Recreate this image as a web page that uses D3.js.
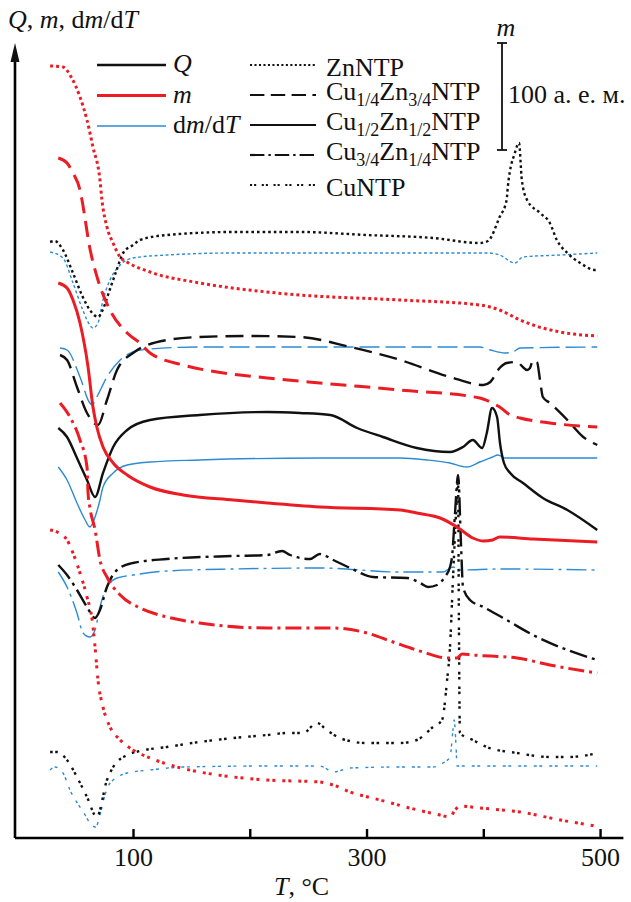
<!DOCTYPE html>
<html>
<head>
<meta charset="utf-8">
<script src="https://cdn.jsdelivr.net/npm/d3@7"></script>
<style>
body { margin: 0; background: #fff; }
svg text { font-family: "Liberation Serif", "Tinos", "Times New Roman", "DejaVu Serif", serif; fill: #111; }
</style>
</head>
<body>
<svg id="chart" width="631" height="902"></svg>
<script>
// T in °C, signal in arbitrary units (curves are offset vertically)
const samples = ["ZnNTP", "Cu1/4Zn3/4NTP", "Cu1/2Zn1/2NTP", "Cu3/4Zn1/4NTP", "CuNTP"];
const tickValues = [100, 200, 300, 400, 500];
const tickLabels = [100, 300, 500];

// ZnNTP
const znQ = [[29,596],[33,597],[40,588],[48.6,565],[57,541],[65,525],[70,521],[74,528],[80,548],[86,568],[91.5,585],[100,593],[106,598],[129,603],[186,606],[243,606],[300,603],[357,600],[397,595],[404,597],[414,621],[420,638],[421,651],[427,685],[430.6,695],[433,658],[437.5,638],[448.6,625],[457,615],[463,598],[472,585],[483,575],[496,568],[497.6,568]];
const znM = [[29,772],[40,771],[47,761],[54.6,741],[60.6,718],[65.7,691],[71.7,658],[73.4,638],[77.7,611],[82.9,595],[88.9,581],[94.9,576],[114.6,566],[157.4,555],[214.8,546],[243,543],[329,538],[397,533],[414,528],[431.5,518],[442.6,513],[465.8,506],[497.6,502]];
const znD = [[29,586],[40,580],[48.6,555],[57,528],[63,513],[65.7,510],[70,515],[74.3,538],[80.3,558],[89,573],[100,580],[129,583],[186,585],[260,585],[404,585],[414,583],[427,575],[434,581],[466,583],[497.6,585]];

// Cu1/4Zn3/4NTP
const c1Q = [[37.5,483],[43.5,478],[52,451],[60.6,425],[70,413],[77.7,438],[86.3,468],[100,485],[129,498],[157,501],[200,502],[243,501],[286,491],[329,478],[371.5,461],[400,453],[406,456],[414,470],[420,475],[429,476],[433,472],[437.5,468],[440,470],[442.6,478],[446,476],[448.6,458],[451,441],[457,435],[472,418],[485.6,401],[497.6,393]];
const c1M = [[36,680],[43.5,675],[48.6,665],[54.6,648],[56.3,638],[63,590],[70,558],[80.3,528],[95,505],[106,495],[114.6,485],[142.8,473],[172,466],[215,460],[260,455],[329,448],[397,440],[406,436],[414,431],[423,423],[431.5,420],[457,415],[497.6,411]];
const c1D = [[37.5,490],[43.5,488],[54.6,461],[63,435],[65,433],[69,441],[77.7,461],[89,478],[100,486],[114.6,489],[157,491],[397,491],[406,488],[418.6,485],[425.5,486],[431.5,490],[497.6,491]];

// Cu1/2Zn1/2NTP
const c2Q = [[36,410],[43.5,401],[52,380],[60.6,358],[67.5,341],[74.3,365],[83,391],[95,408],[114.6,418],[157,423],[215,426],[243,425],[269,423],[292,410],[314,401],[343,390],[371.5,386],[382.6,391],[391,398],[399,390],[403,405],[407.5,430],[411.8,421],[414.3,395],[417.7,375],[423,365],[434,355],[451,340],[472,328],[497.6,308]];
const c2M = [[36,555],[43.5,550],[48.6,538],[54.6,515],[61.5,471],[65.7,431],[69,411],[74.3,391],[83,375],[95,363],[114.6,351],[143,343],[186,338],[215,335],[260,331],[329,328],[343,325],[363,320],[377.5,311],[391,300],[400,297],[408,298],[414,301],[442.6,299],[497.6,296]];
const c2D = [[36,371],[43.5,358],[52,335],[59,318],[63,311],[67.5,321],[71.7,338],[74.3,351],[83,365],[95,373],[114.6,376],[157,378],[260,380],[329,380],[352,378],[371.5,375],[386,371],[397,376],[408,381],[412.6,383],[418.6,380],[497.6,380]];

// Cu3/4Zn1/4NTP
const c3Q = [[36,273],[43.5,263],[52,248],[60.6,231],[67.5,220],[71.7,228],[77.7,251],[86.3,268],[100,275],[129,279],[186,282],[215,283],[227.6,287],[234.5,283],[251.6,279],[260,284],[271.5,278],[286,270],[305.6,261],[334.7,260],[346,255],[352.7,251],[360.4,253],[367,261],[371.5,271],[373.2,281],[375.8,325],[378.4,363],[381,291],[382.6,251],[388.6,238],[400,231],[420,218],[442.6,203],[472,188],[497.6,178]];
const c3M = [[37.5,435],[46,421],[54.6,398],[60.6,371],[61.5,345],[63,331],[67.5,308],[71.7,278],[77.7,261],[89,243],[106,230],[129,221],[157,215],[215,210],[260,210],[271.5,210],[300.4,205],[322.7,196],[348.4,186],[369,180],[377.5,180],[381.8,184],[391,183],[429,180],[457,173],[497.6,165]];
const c3D = [[36,266],[43.5,251],[52,225],[57.2,205],[63,201],[67.5,208],[71.7,231],[77.7,251],[86.3,260],[100,263],[129,267],[186,269],[260,270],[329,266],[365.5,266],[374,271],[380,268],[414,269],[497.6,268]];

// CuNTP
const c4Q = [[29,86],[35,86],[43.5,78],[52,61],[60.6,41],[69,21],[77.7,58],[83,71],[95,83],[106,87],[129,91],[157,96],[186,100],[215,103],[232,105],[245.6,105],[257.6,115],[266,108],[277,100],[300,95],[329,95],[343,98],[357,111],[364.7,118],[369,158],[371.5,191],[374,258],[376.7,325],[378.4,360],[379,238],[380,105],[391,98],[403,91],[429,85],[457,81],[472,81],[494,84],[497.6,85]];
const c4M = [[29,308],[35,306],[43.5,298],[48.6,285],[54.6,265],[60.6,241],[65,218],[67.5,191],[70,158],[74.3,131],[80.3,111],[89,98],[100,88],[114.6,80],[137.7,71],[157,66],[186,61],[215,58],[260,56],[271.5,53],[286,46],[311.6,38],[337,30],[363,23],[371.5,21],[375.8,28],[380,32],[397,30],[431.5,26],[466,18],[495.8,12]];
const c4D = [[29,68],[33,71],[40,65],[46,48],[59,23],[63,15],[68,11],[71.7,23],[76,43],[80.3,55],[83,58],[95,65],[114.6,68],[143,71],[215,72],[260,72],[263,71],[271.5,66],[286,70],[329,71],[357,71],[365.5,75],[371.5,81],[374,108],[375,118],[376.7,91],[377.5,72],[497.6,72]];

const curves = [
  {s: 0, k: "d", pts: znD}, {s: 1, k: "d", pts: c1D}, {s: 2, k: "d", pts: c2D}, {s: 3, k: "d", pts: c3D}, {s: 4, k: "d", pts: c4D},
  {s: 0, k: "Q", pts: znQ}, {s: 1, k: "Q", pts: c1Q}, {s: 2, k: "Q", pts: c2Q}, {s: 3, k: "Q", pts: c3Q}, {s: 4, k: "Q", pts: c4Q},
  {s: 0, k: "m", pts: znM}, {s: 1, k: "m", pts: c1M}, {s: 2, k: "m", pts: c2M}, {s: 3, k: "m", pts: c3M}, {s: 4, k: "m", pts: c4M}
];

const kindStyle = {
  Q: {color: "#111", width: 2.4},
  m: {color: "#ec1c24", width: 3},
  d: {color: "#2b8bd3", width: 1.4}
};
const dashes = {
  Q: ["2.6,3", "18,8", null, "18,5,3,5", "2.6,2.5,2.6,7"],
  m: ["3,3", "16,8", null, "16,5,3,5", "3,3,3,7"],
  d: ["3,2.5", "20,6", null, "20,5,3,5", "3,2.5,3,7"]
};

const FONT = '"Liberation Serif", "Tinos", "Times New Roman", "DejaVu Serif", serif';
const FS = 26;

const svg = d3.select("#chart").attr("font-family", FONT);
const x = d3.scaleLinear().domain([0, 520]).range([16.25, 623.4]);
const y = d3.scaleLinear().domain([0, 796]).range([838, 42]);

const line = d3.line()
  .x(d => x(d[0]))
  .y(d => y(d[1]))
  .curve(d3.curveMonotoneX);

svg.append("g")
  .selectAll("path")
  .data(curves)
  .join("path")
    .attr("d", d => line(d.pts))
    .attr("fill", "none")
    .attr("stroke", d => kindStyle[d.k].color)
    .attr("stroke-width", d => kindStyle[d.k].width)
    .attr("stroke-dasharray", d => dashes[d.k][d.s])
    .attr("stroke-linejoin", "round");

// axes
const xAxis = svg.append("g")
  .attr("transform", "translate(0," + y(0) + ")")
  .call(d3.axisBottom(x)
    .tickValues(tickValues)
    .tickSizeInner(-9)
    .tickSizeOuter(0)
    .tickPadding(10)
    .tickFormat(d => tickLabels.includes(d) ? d : ""));
xAxis.attr("font-family", FONT);
xAxis.select(".domain").attr("stroke-width", 2.6).attr("d", "M15,0H" + x.range()[1]);
xAxis.selectAll(".tick line").attr("stroke-width", 2.4);
xAxis.selectAll(".tick text").attr("font-size", FS).attr("fill", "#111");

const yAxis = svg.append("g")
  .attr("transform", "translate(15,0)")
  .call(d3.axisLeft(y).tickValues([]).tickSizeOuter(0));
yAxis.select(".domain")
  .attr("stroke-width", 2.6)
  .attr("d", "M0," + y(0) + "V" + (y.range()[1] + 15));
yAxis.append("path")
  .attr("d", "M-4.5," + (y.range()[1] + 20) + "L0," + (y.range()[1] + 1) + "L4.5," + (y.range()[1] + 20) + "Z")
  .attr("fill", "#111");

// axis titles
const yt = svg.append("text").attr("x", 8).attr("y", 28).attr("font-size", FS);
yt.append("tspan").attr("font-style", "italic").text("Q");
yt.append("tspan").text(", ");
yt.append("tspan").attr("font-style", "italic").text("m");
yt.append("tspan").text(", d");
yt.append("tspan").attr("font-style", "italic").text("m");
yt.append("tspan").text("/d");
yt.append("tspan").attr("font-style", "italic").text("T");

const xt = svg.append("text").attr("x", 274).attr("y", 895).attr("font-size", FS);
xt.append("tspan").attr("font-style", "italic").text("T");
xt.append("tspan").text(", °C");

// legend: measured quantities
const kinds = ["Q", "m", "d"];
const kindLabels = [[["Q", true]], [["m", true]], [["d", false], ["m", true], ["/d", false], ["T", true]]];
kinds.forEach((k, i) => {
  const ly = 65 + i * 30.5;
  svg.append("line")
    .attr("x1", 97).attr("x2", 166).attr("y1", ly).attr("y2", ly)
    .attr("stroke", kindStyle[k].color)
    .attr("stroke-width", kindStyle[k].width);
  const t = svg.append("text").attr("x", 173).attr("y", ly + 7).attr("font-size", FS);
  kindLabels[i].forEach(([s, it]) => t.append("tspan").attr("font-style", it ? "italic" : null).text(s));
});

// legend: samples
const sampleParts = [
  [["ZnNTP"]],
  [["Cu"], ["1/4", 1], ["Zn"], ["3/4", 1], ["NTP"]],
  [["Cu"], ["1/2", 1], ["Zn"], ["1/2", 1], ["NTP"]],
  [["Cu"], ["3/4", 1], ["Zn"], ["1/4", 1], ["NTP"]],
  [["CuNTP"]]
];
samples.forEach((s, i) => {
  const ly = 65 + i * 30;
  svg.append("line")
    .attr("x1", 250).attr("x2", 316).attr("y1", ly).attr("y2", ly)
    .attr("stroke", "#111")
    .attr("stroke-width", 2.2)
    .attr("stroke-dasharray", dashes.Q[i] ? dashes.Q[i].split(",").map(v => v * 0.8).join(",") : null);
  const sub = sampleParts[i].length > 1;
  const t = svg.append("text").attr("x", 326).attr("y", ly + (sub ? 5 : 11)).attr("font-size", FS);
  let shifted = false;
  sampleParts[i].forEach(([p, isSub]) => {
    const ts = t.append("tspan").text(p);
    if (isSub) { ts.attr("font-size", 18).attr("dy", 6); shifted = true; }
    else if (shifted) { ts.attr("dy", -6); shifted = false; }
  });
});

// scale bar for m
const barTop = 795, barLen = 107;
const bar = svg.append("g").attr("stroke", "#111").attr("stroke-width", 1.8);
bar.append("line").attr("x1", 502).attr("x2", 502).attr("y1", y(barTop)).attr("y2", y(barTop - barLen));
bar.append("line").attr("x1", 497).attr("x2", 507).attr("y1", y(barTop)).attr("y2", y(barTop));
bar.append("line").attr("x1", 497).attr("x2", 507).attr("y1", y(barTop - barLen)).attr("y2", y(barTop - barLen));
svg.append("text").attr("x", 506).attr("y", 36).attr("font-size", FS).attr("font-style", "italic")
  .attr("text-anchor", "middle").text("m");
svg.append("text").attr("x", 508).attr("y", 103).attr("font-size", FS).text("100 а. е. м.");
</script>
</body>
</html>
